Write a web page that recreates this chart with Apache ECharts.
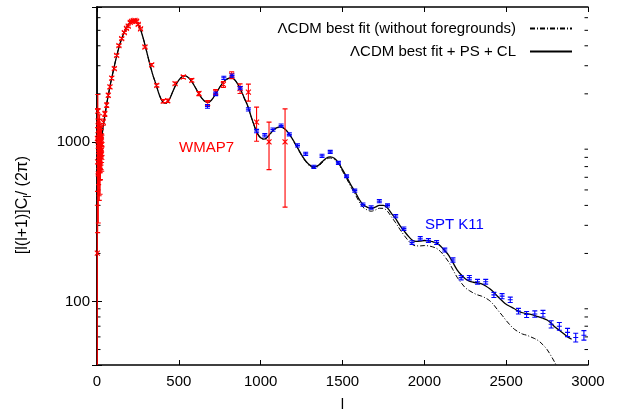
<!DOCTYPE html>
<html>
<head>
<meta charset="utf-8">
<script src="https://cdn.jsdelivr.net/npm/echarts@6/dist/echarts.min.js"></script>
<style>html,body{margin:0;padding:0;background:#fff;}#c{width:623px;height:414px;}</style>
</head>
<body>
<div id="c"></div>
<script>
// ---- data (l, D_l) ----
const xTicks = [0, 500, 1000, 1500, 2000, 2500, 3000];
const yMajorTicks = [100, 1000];
const yMinorTicks = [50, 60, 70, 80, 90, 200, 300, 400, 500, 600, 700, 800, 900, 2000, 3000, 4000, 5000, 6000];
const yMin = 40, yMax = 7000;

const lcdmTotal = [
  [2,1000],[5,870],[10,800],[15,830],[20,900],[30,1080],[40,1300],[50,1500],[60,1750],[70,1980],[80,2250],
  [100,2800],[120,3450],[140,4100],[160,4700],[180,5200],[200,5600],[220,5800],[240,5650],[260,5250],[280,4550],
  [300,3800],[320,3150],[340,2650],[360,2300],[380,1980],[400,1790],[420,1745],[440,1830],[460,2030],[480,2260],
  [500,2440],[520,2560],[540,2590],[560,2520],[580,2380],[600,2200],[620,2020],[640,1880],[660,1790],[680,1770],
  [700,1830],[720,1960],[740,2120],[760,2280],[780,2420],[800,2490],[820,2527],[840,2460],[860,2300],[880,2100],
  [900,1880],[920,1690],[940,1460],[960,1270],[980,1130],[1000,1060],[1020,1040],[1040,1070],[1060,1130],
  [1080,1190],[1100,1230],[1125,1240],[1150,1200],[1175,1120],[1200,1020],[1225,920],[1250,830],[1275,760],
  [1300,715],[1325,698],[1350,710],[1375,750],[1400,790],[1425,806],[1450,790],[1475,740],[1500,670],[1525,604],
  [1550,540],[1575,490],[1600,440],[1625,405],[1650,390],[1675,383],[1700,390],[1725,400],[1750,400],[1775,385],
  [1800,355],[1825,330],[1850,300],[1875,278],[1900,258],[1925,243],[1950,238],[1975,239],[2000,241],[2025,240],
  [2050,237],[2075,232],[2100,222],[2125,208],[2150,194],[2175,175],[2200,158],[2225,147],[2250,139],[2275,134],
  [2300,132],[2325,131],[2350,129],[2375,125],[2400,120],[2425,114],[2450,107],[2475,101],[2500,96],[2525,93],
  [2550,90],[2575,87],[2600,85],[2625,84],[2650,83],[2675,81.5],[2700,80],[2725,78.5],[2750,76.5],[2775,73],
  [2800,69],[2825,66],[2850,63],[2875,60],[2900,58]
];

const lcdmNoFg = [
  [2,1000],[5,870],[10,800],[15,830],[20,900],[30,1080],[40,1300],[50,1500],[60,1750],[70,1980],[80,2250],
  [100,2800],[120,3450],[140,4100],[160,4700],[180,5200],[200,5600],[220,5800],[240,5650],[260,5250],[280,4550],
  [300,3800],[320,3150],[340,2650],[360,2300],[380,1980],[400,1790],[420,1745],[440,1830],[460,2030],[480,2260],
  [500,2440],[520,2560],[540,2590],[560,2520],[580,2380],[600,2200],[620,2020],[640,1880],[660,1790],[680,1770],
  [700,1830],[720,1960],[740,2120],[760,2280],[780,2420],[800,2490],[820,2525],[840,2455],[860,2295],[880,2095],
  [900,1875],[920,1685],[940,1455],[960,1265],[980,1125],[1000,1055],[1020,1035],[1040,1064],[1060,1124],
  [1080,1183],[1100,1222],[1125,1232],[1150,1192],[1175,1112],[1200,1012],[1225,912],[1250,822],[1275,752],
  [1300,706],[1325,689],[1350,700],[1375,740],[1400,778],[1425,793],[1450,776],[1475,725],[1500,655],[1525,589],
  [1550,525],[1575,474],[1600,425],[1625,390],[1650,375],[1675,368],[1700,374],[1725,384],[1750,383],[1775,367],
  [1800,338],[1825,311],[1850,284],[1875,261],[1900,242],[1925,228],[1950,223],[1975,223],[2000,224],[2025,223],
  [2050,220],[2075,215],[2100,205],[2125,191],[2150,176],[2175,158],[2200,142],[2225,131],[2250,122],[2275,117],
  [2300,113],[2325,110],[2350,108],[2375,105],[2400,101],[2425,95],[2450,88],[2475,82],[2500,76],[2525,71],
  [2550,67],[2575,64.5],[2600,62.5],[2625,61.5],[2650,60],[2675,58.5],[2700,56.5],[2725,53.5],[2750,50],
  [2775,45.5],[2800,41],[2815,38]
];

// WMAP7 band powers: [l, D_l, error]
const wmap7 = [
  [2,201,200],[3,1050,560],[4,750,480],[5,1560,420],[6,1010,380],[7,1260,350],[8,630,320],[9,1030,300],
  [10,820,280],[11,900,265],[12,1130,250],[13,700,240],[14,660,230],[15,940,220],[16,1270,210],[17,930,200],
  [18,770,195],[19,660,190],[20,860,185],[21,760,180],[22,1080,175],[23,1020,170],[24,880,165],[25,830,160],
  [26,1040,155],[27,1090,150],[28,890,148],[29,800,145],[30,960,142],
  [38,1330,60],[48,1500,55],[59,1700,55],[69,1960,55],[79,2210,55],[90,2510,60],[106,2880,60],[120,3480,65],
  [134,4010,70],[151,4430,75],[167,4840,80],[180,5150,80],[191,5310,80],[203,5600,80],[212,5690,80],
  [222,5750,80],[232,5770,80],[242,5700,80],[252,5450,80],[266,5100,80],[293,3930,70],[334,3040,60],
  [365,2260,50],[405,1800,45],[432,1810,45],[477,2320,50],[527,2550,55],[579,2430,60],[623,2010,60],
  [676,1750,65],[725,2050,80],[772,2290,100],[823,2620,130],[874,2160,150],[925,2050,250],[975,1330,320],
  [1051,1000,330],[1149,1000,610]
];

// SPT K11 band powers: [l, D_l, error]
const sptK11 = [
  [675,1670,45],[725,2000,50],[775,2520,60],[825,2600,60],[875,2170,50],[925,1600,38],[975,1170,28],
  [1025,1100,26],[1075,1195,28],[1125,1265,28],[1175,1115,25],[1225,950,22],[1275,842,19],[1325,698,16],
  [1375,818,18],[1425,866,19],[1475,739,16],[1525,610,13],[1575,495,11],[1625,405,9],[1675,388,9],
  [1725,425,9.5],[1775,400,9],[1825,343,8],[1875,286,7],[1925,234,6],[1975,249,6.5],[2025,241,6.5],
  [2075,234,6.5],[2125,210,6],[2175,182,5.5],[2225,141,4.5],[2275,141,4.5],[2325,133,4.5],[2375,133,4.5],
  [2425,110,4],[2475,108,4],[2525,102.5,4],[2575,87,3.6],[2625,83,3.6],[2675,83.5,3.8],[2725,84,4],
  [2775,72,3.8],[2825,70,3.9],[2875,64,3.8],[2925,59.5,3.8],[2975,61.5,4.2]
];

const FONT = 'Liberation Sans';

function errRender(color, kind) {
  return function (params, api) {
    const l = api.value(0), d = api.value(1), e = api.value(2);
    const c = api.coord([l, d]);
    const hi = api.coord([l, Math.min(d + e, yMax)]);
    const lowVal = d - e;
    const lo = api.coord([l, Math.max(lowVal, yMin)]);
    const cw = 2.5;
    const x = c[0];
    let p = 'M' + x + ' ' + hi[1] + 'L' + x + ' ' + lo[1] +
      'M' + (x - cw) + ' ' + hi[1] + 'L' + (x + cw) + ' ' + hi[1];
    if (lowVal > yMin) {
      p += 'M' + (x - cw) + ' ' + lo[1] + 'L' + (x + cw) + ' ' + lo[1];
    }
    if (kind === 'x') {
      p += 'M' + (x - 2.5) + ' ' + (c[1] - 2.5) + 'L' + (x + 2.5) + ' ' + (c[1] + 2.5) +
        'M' + (x - 2.5) + ' ' + (c[1] + 2.5) + 'L' + (x + 2.5) + ' ' + (c[1] - 2.5);
    } else {
      p += 'M' + (x - 2.5) + ' ' + c[1] + 'L' + (x + 2.5) + ' ' + c[1];
    }
    return {
      type: 'path',
      shape: { pathData: p },
      style: { stroke: color, fill: null, lineWidth: 1.1 },
      z2: 100
    };
  };
}

function minorTickRender(params, api) {
  const v = api.value(1);
  const a = api.coord([0, v]);
  const b = api.coord([3000, v]);
  const p = 'M' + a[0] + ' ' + a[1] + 'L' + (a[0] + 3.5) + ' ' + a[1] +
    'M' + (b[0] - 3.5) + ' ' + b[1] + 'L' + b[0] + ' ' + b[1];
  return { type: 'path', shape: { pathData: p }, style: { stroke: '#000', fill: null, lineWidth: 1 } };
}

const chart = echarts.init(document.getElementById('c'), null, { renderer: 'canvas' });
const axisLineStyle = { show: true, lineStyle: { color: '#000', width: 1.5 } };
chart.setOption({
  animation: false,
  backgroundColor: '#fff',
  textStyle: { fontFamily: FONT },
  grid: { left: 97, right: 35, top: 7, bottom: 49, containLabel: false, outerBoundsMode: 'none' },
  legend: {
    data: ['ΛCDM best fit (without foregrounds)', 'ΛCDM best fit + PS + CL'],
    orient: 'vertical',
    align: 'right',
    right: 45,
    top: 16,
    itemWidth: 42,
    itemHeight: 14,
    itemGap: 8,
    itemStyle: { color: 'rgba(0,0,0,0)', borderColor: 'rgba(0,0,0,0)', borderWidth: 0, opacity: 0 },
    textStyle: { fontFamily: FONT, fontSize: 15, color: '#000', padding: [0, 9, 0, 0] }
  },
  xAxis: [
    {
      type: 'value', min: 0, max: 3000, interval: 500, position: 'bottom',
      name: 'l', nameLocation: 'middle', nameGap: 32,
      nameTextStyle: { fontFamily: FONT, fontSize: 15, color: '#000' },
      axisLine: axisLineStyle,
      axisTick: { show: true, inside: true, length: 5, lineStyle: { color: '#000' } },
      axisLabel: { fontFamily: FONT, fontSize: 15, color: '#000', margin: 9,
        formatter: function (v) { return String(v); } },
      splitLine: { show: false }
    },
    {
      type: 'value', min: 0, max: 3000, interval: 500, position: 'top',
      axisLine: axisLineStyle,
      axisTick: { show: true, inside: true, length: 5, lineStyle: { color: '#000' } },
      axisLabel: { show: false }, splitLine: { show: false }
    }
  ],
  yAxis: [
    {
      type: 'log', logBase: 10, min: yMin, max: yMax, position: 'left',
      name: '{b|[l(l+1)]C}{s|l}{b|/ (2π)}', nameLocation: 'middle', nameGap: 62,
      nameTextStyle: {
        fontFamily: FONT, fontSize: 16, color: '#000', padding: [0, 38, 0, 0],
        rich: {
          b: { fontFamily: FONT, fontSize: 16, color: '#000', lineHeight: 24, verticalAlign: 'middle' },
          s: { fontFamily: FONT, fontSize: 11, color: '#000', lineHeight: 24, verticalAlign: 'bottom', padding: [0, 0, 2, 0] }
        }
      },
      axisLine: axisLineStyle,
      axisTick: { show: true, inside: true, length: 5, lineStyle: { color: '#000' } },
      axisLabel: {
        fontFamily: FONT, fontSize: 15, color: '#000', margin: 7,
        formatter: function (v) { return yMajorTicks.indexOf(Math.round(v)) >= 0 ? String(Math.round(v)) : ''; }
      },
      splitLine: { show: false }
    },
    {
      type: 'log', logBase: 10, min: yMin, max: yMax, position: 'right',
      axisLine: axisLineStyle,
      axisTick: { show: true, inside: true, length: 5, lineStyle: { color: '#000' } },
      axisLabel: { show: false }, splitLine: { show: false }
    }
  ],
  series: [
    {
      name: 'ΛCDM best fit (without foregrounds)', type: 'line', xAxisIndex: 0, yAxisIndex: 0,
      data: lcdmNoFg, symbol: 'none', showSymbol: false, smooth: 0.35, clip: true,
      lineStyle: { color: '#000', width: 1, type: [5, 2, 1, 2] }, itemStyle: { color: '#000' }, z: 2,
      emphasis: { disabled: true }
    },
    {
      name: 'ΛCDM best fit + PS + CL', type: 'line', xAxisIndex: 0, yAxisIndex: 0,
      data: lcdmTotal, symbol: 'none', showSymbol: false, smooth: 0.35, clip: true,
      lineStyle: { color: '#000', width: 1.3 }, itemStyle: { color: '#000' }, z: 2,
      emphasis: { disabled: true }
    },
    {
      name: 'WMAP7', type: 'custom', xAxisIndex: 0, yAxisIndex: 0, clip: false, silent: true,
      renderItem: errRender('#ff0000', 'x'), data: wmap7, zlevel: 1, z: 10, itemStyle: { color: '#ff0000' }
    },
    {
      name: 'SPT K11', type: 'custom', xAxisIndex: 0, yAxisIndex: 0, clip: false, silent: true,
      renderItem: errRender('#0000ff', 'plus'), data: sptK11, zlevel: 1, z: 10, itemStyle: { color: '#0000ff' }
    },
    {
      name: 'minorTicks', type: 'custom', xAxisIndex: 0, yAxisIndex: 0, silent: true, clip: false,
      renderItem: minorTickRender, data: yMinorTicks.map(function (v) { return [0, v]; }), z: 11
    }
  ],
  graphic: [
    { type: 'text', left: 179, top: 140, style: { text: 'WMAP7', fill: '#ff0000', font: '15px "Liberation Sans"' } },
    { type: 'text', left: 425, top: 217, style: { text: 'SPT K11', fill: '#0000ff', font: '15px "Liberation Sans"' } }
  ]
});
</script>
</body>
</html>
